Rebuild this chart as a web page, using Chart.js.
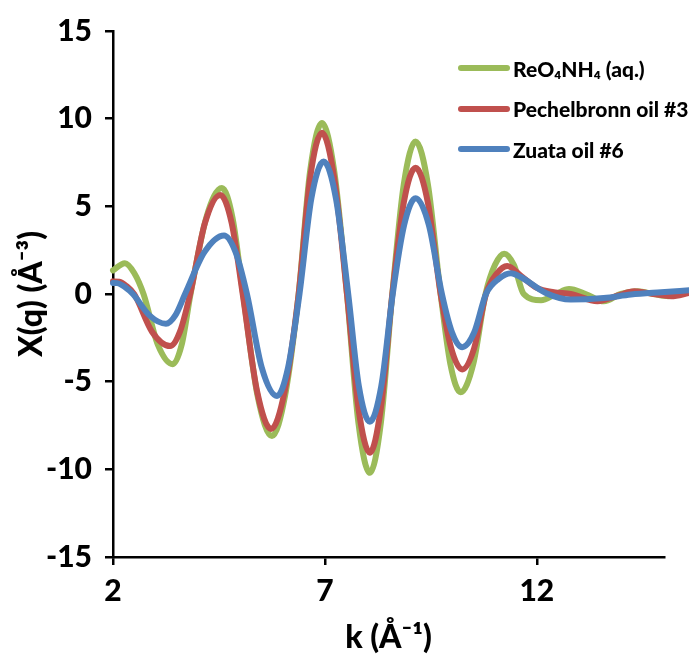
<!DOCTYPE html>
<html>
<head>
<meta charset="utf-8">
<script src="https://cdn.jsdelivr.net/npm/chart.js@4.4.0/dist/chart.umd.min.js"></script>
<style>
  body { margin: 0; background: #fff; }
  #wrap { position: relative; width: 689px; height: 654px; }
  #legend { position: absolute; left: 458px; top: 48px; font: 900 21px Lato, sans-serif; color: #000; }
  #legend div { display: flex; align-items: center; height: 40.5px; white-space: nowrap; }
  #legend .sw { display: inline-block; width: 52px; height: 6px; border-radius: 3px; margin-right: 3px; }
</style>
</head>
<body>
<div id="wrap">
  <canvas id="myChart" width="689" height="654"></canvas>
  <div id="legend"></div>
</div>
<script>
  'use strict'

  const seriesLabels = ['ReO₄NH₄ (aq.)', 'Pechelbronn oil #3', 'Zuata oil #6']
  const seriesColors = ['#9BBB59', '#C0504D', '#4F81BD']

  // k values and X(q) values
  const reoK = [2.00, 2.28, 2.50, 2.72, 3.06, 3.41, 3.62, 3.83, 4.20, 4.57, 4.82, 5.07, 5.41, 5.75, 6.06, 6.38, 6.65, 6.93, 7.22, 7.52, 7.79, 8.06, 8.32, 8.59, 8.86, 9.14, 9.43, 9.73, 9.96, 10.20, 10.50, 10.79, 11.01, 11.23, 11.46, 11.69, 12.10, 12.45, 12.76, 13.15, 13.58, 13.98, 14.38, 14.75, 15.10, 15.60]
  const reoY = [1.35, 1.76, 1.2, 0, -2.9, -4.0, -2.9, 0, 4.35, 6.05, 4.35, 0, -5.8, -8.1, -5.8, 0, 7.0, 9.75, 7.0, 0, -7.35, -10.2, -7.35, 0, 6.25, 8.7, 6.25, 0, -4.0, -5.6, -4.0, 0, 1.65, 2.3, 1.65, 0, -0.35, 0, 0.28, 0, -0.42, 0, 0.15, 0, -0.13, 0.1]

  const pechK = [2.00, 2.15, 2.32, 2.50, 2.92, 3.35, 3.58, 3.82, 4.17, 4.53, 4.80, 5.06, 5.40, 5.73, 6.05, 6.38, 6.65, 6.93, 7.22, 7.52, 7.79, 8.06, 8.32, 8.59, 8.86, 9.14, 9.43, 9.73, 9.98, 10.24, 10.52, 10.80, 11.05, 11.30, 11.64, 12.00, 12.40, 12.80, 13.43, 13.90, 14.30, 14.75, 15.17, 15.60]
  const pechY = [0.72, 0.70, 0.45, 0, -2.15, -2.97, -2.15, 0, 4.05, 5.65, 4.05, 0, -5.55, -7.7, -5.55, 0, 6.6, 9.2, 6.6, 0, -6.5, -9.05, -6.5, 0, 5.2, 7.2, 5.2, 0, -3.1, -4.3, -3.1, 0, 1.15, 1.6, 1.0, 0.35, 0.1, 0, -0.41, -0.1, 0.15, 0, -0.13, 0.06]

  const zuataK = [2.00, 2.10, 2.28, 2.47, 2.86, 3.25, 3.47, 3.70, 4.16, 4.62, 4.89, 5.16, 5.51, 5.87, 6.13, 6.40, 6.68, 6.97, 7.26, 7.55, 7.80, 8.06, 8.33, 8.60, 8.87, 9.14, 9.45, 9.76, 10.00, 10.24, 10.52, 10.80, 11.10, 11.39, 11.62, 12.21, 12.80, 13.58, 14.22, 14.93, 15.60]
  const zuataY = [0.63, 0.62, 0.4, 0, -1.22, -1.7, -1.22, 0, 2.4, 3.34, 2.4, 0, -4.2, -5.82, -4.2, 0, 5.45, 7.55, 5.45, 0, -5.25, -7.28, -5.25, 0, 3.95, 5.46, 3.95, 0, -2.2, -3.03, -2.2, 0, 0.86, 1.19, 0.97, 0.06, -0.32, -0.23, -0.03, 0.1, 0.21]

  const xTicks = [2, 7, 12]
  const xMin = 2
  const xMax = 15

  const toPoints = (ks, ys) => ks.map((k, i) => ({ x: k, y: ys[i] }))

  const axisFont = { family: 'Lato', weight: 900, size: 30 }
  const titleFont = { family: 'Lato', weight: 900, size: 32, lineHeight: 1 }
  const gridOpts = { drawOnChartArea: false, color: '#000', lineWidth: 2.5, tickLength: 8 }
  const borderOpts = { color: '#000', width: 2.5 }

  const ctx = document.getElementById('myChart')
  const chart = new Chart(ctx, {
    type: 'line',
    data: {
      datasets: [
        { label: seriesLabels[0], data: toPoints(reoK, reoY), borderColor: seriesColors[0], order: 3, clip: false },
        { label: seriesLabels[1], data: toPoints(pechK, pechY), borderColor: seriesColors[1], order: 2, clip: false },
        { label: seriesLabels[2], data: toPoints(zuataK, zuataY), borderColor: seriesColors[2], order: 1, clip: false }
      ]
    },
    options: {
      responsive: false,
      animation: false,
      layout: { padding: { top: 29, right: 25, left: 0, bottom: 0 } },
      elements: {
        point: { radius: 0 },
        line: { borderWidth: 6, cubicInterpolationMode: 'monotone', borderCapStyle: 'round', borderJoinStyle: 'round' }
      },
      plugins: {
        legend: { display: false },
        tooltip: { enabled: false }
      },
      scales: {
        x: {
          type: 'linear',
          min: xMin,
          bounds: 'data',
          afterDataLimits: (s) => { s.max = xMax },
          afterBuildTicks: (s) => { s.ticks = xTicks.map(v => ({ value: v })) },
          afterFit: (s) => { s.height = 97 },
          grid: gridOpts,
          border: borderOpts,
          ticks: { font: axisFont, color: '#000', padding: 8 },
          title: { display: true, text: 'k (Å⁻¹)', font: titleFont, color: '#000', padding: 0 }
        },
        y: {
          min: -15,
          max: 15,
          afterFit: (s) => { s.width = 113 },
          grid: gridOpts,
          border: borderOpts,
          ticks: { stepSize: 5, font: axisFont, color: '#000', padding: 13 },
          title: { display: true, text: 'X(q) (Å⁻³)', font: titleFont, color: '#000', padding: { top: 16, bottom: 0 } }
        }
      }
    }
  })

  // legend as a vertical list in the upper right
  const legend = document.getElementById('legend')
  chart.data.datasets.forEach((ds) => {
    const row = document.createElement('div')
    const sw = document.createElement('span')
    sw.className = 'sw'
    sw.style.background = ds.borderColor
    row.appendChild(sw)
    row.appendChild(document.createTextNode(ds.label))
    legend.appendChild(row)
  })
</script>
</body>
</html>
